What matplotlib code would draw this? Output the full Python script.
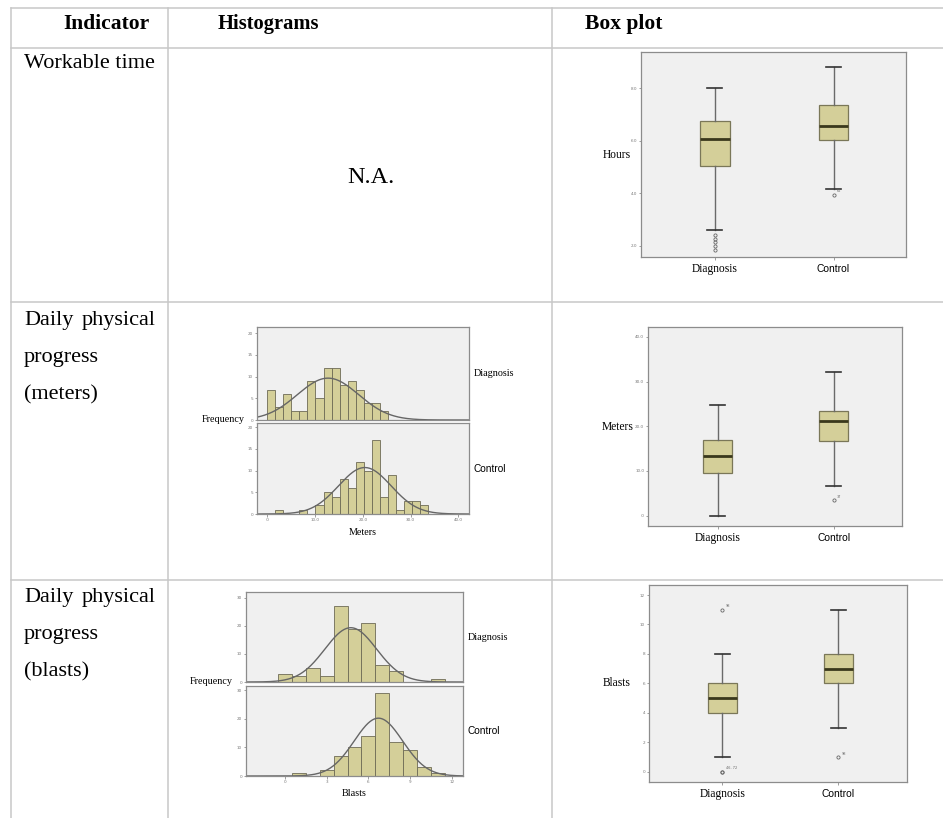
import numpy as np
import matplotlib
matplotlib.use("Agg")
import matplotlib.pyplot as plt
from matplotlib.transforms import blended_transform_factory

W, H = 943, 818
SERIF = ['Liberation Serif', 'DejaVu Serif']
SANS = ['Liberation Sans', 'DejaVu Sans']

# ---------------- data ----------------
groups = ['Diagnosis', 'Control']

# box plot: workable time (hours)
hours_lo = [2.6, 4.17]
hours_q1 = [5.04, 6.05]
hours_med = [6.07, 6.58]
hours_q3 = [6.77, 7.38]
hours_hi = [8.0, 8.82]
hours_out = [[2.41, 2.28, 2.15, 2.0, 1.85], [3.95]]
hours_out_lbl = [['', '', '', '', ''], ['62']]

# box plot: daily progress (meters)
meters_lo = [0.0, 6.7]
meters_q1 = [9.5, 16.7]
meters_med = [13.4, 21.1]
meters_q3 = [16.9, 23.4]
meters_hi = [24.7, 32.1]
meters_out = [[], [3.5]]
meters_out_lbl = [[], ['37']]

# box plot: daily progress (blasts)
blasts_lo = [1, 3]
blasts_q1 = [4, 6]
blasts_med = [5, 7]
blasts_q3 = [6, 8]
blasts_hi = [8, 11]
blasts_out = [[11, 0, 0], [1]]
blasts_out_lbl = [['98', '46, 72', ''], ['98']]

# histograms: meters (bins start at 0, width 1.68)
meters_bin_w = 1.68
meters_diag_counts = [7, 3, 6, 2, 2, 9, 5, 12, 12, 8, 9, 7, 4, 4, 2]
meters_ctrl_counts = [0, 1, 0, 0, 1, 0, 2, 5, 4, 8, 6, 12, 10, 17, 4, 9, 1, 3, 3, 2]
meters_fit_mean = [12.7, 20.4]
meters_fit_sd = [6.4, 5.5]

# histograms: blasts (bins centred on integers, width 1)
blasts_centres = list(range(0, 12))
blasts_diag_counts = [3, 2, 5, 2, 27, 19, 21, 6, 4, 0, 0, 1]
blasts_ctrl_counts = [0, 1, 0, 2, 7, 10, 14, 29, 12, 9, 3, 1]
blasts_fit_mean = [4.73, 6.72]
blasts_fit_sd = [1.86, 1.74]

# ---------------- style ----------------
FACE = '#F0F0F0'
FRAME = '#8C8C8C'
FILL = '#D4CF99'
BAR_EDGE = '#6E6B55'
GRID = '#C8C8C8'

fig = plt.figure(figsize=(W / 100, H / 100), dpi=100)

# table overlay in pixel coordinates
tab = fig.add_axes([0, 0, 1, 1])
tab.set_xlim(0, W)
tab.set_ylim(H, 0)
tab.axis('off')
for y in [8, 48, 302, 580]:
    tab.plot([11, W], [y, y], color=GRID, lw=1.1)
for x in [11, 168, 552]:
    tab.plot([x, x], [8, H], color=GRID, lw=1.1)

tab.text(106, 29, 'Indicator', family=SERIF, weight='bold', fontsize=15.5, ha='center', va='baseline')
tab.text(218, 29, 'Histograms', family=SERIF, weight='bold', fontsize=14.8, ha='left', va='baseline')
tab.text(585, 29, 'Box plot', family=SERIF, weight='bold', fontsize=15.5, ha='left', va='baseline')

tab.text(24, 68, 'Workable time', family=SERIF, fontsize=16, va='baseline')
for base, last in [(325, '(meters)'), (602, '(blasts)')]:
    tab.text(24, base, 'Daily', family=SERIF, fontsize=16, va='baseline')
    tab.text(156, base, 'physical', family=SERIF, fontsize=16, va='baseline', ha='right')
    tab.text(24, base + 37, 'progress', family=SERIF, fontsize=16, va='baseline')
    tab.text(24, base + 74, last, family=SERIF, fontsize=16, va='baseline')
tab.text(371, 183, 'N.A.', family=SERIF, fontsize=17.5, ha='center', va='baseline')


def px_axes(x0, y0, x1, y1):
    return fig.add_axes([x0 / W, 1 - y1 / H, (x1 - x0) / W, (y1 - y0) / H])


def frame(ax):
    ax.set_facecolor(FACE)
    for s in ax.spines.values():
        s.set_color(FRAME)
        s.set_linewidth(0.9)
    ax.tick_params(length=1.8, width=0.5, colors='#777777', labelsize=3, pad=1)


def boxplot(rect, xlim, ylim, yticks, ytlbl, lo, q1, med, q3, hi, out, out_lbl, ylabel, ylab_x):
    ax = px_axes(*rect)
    frame(ax)
    stats = []
    for i in range(2):
        stats.append(dict(whislo=lo[i], q1=q1[i], med=med[i], q3=q3[i], whishi=hi[i], fliers=out[i]))
    ax.bxp(stats, positions=[1, 2], widths=0.25, patch_artist=True,
           boxprops=dict(facecolor=FILL, edgecolor='#7A7758', lw=0.9),
           medianprops=dict(color='#3A381C', lw=2.0),
           whiskerprops=dict(color='#6A6A6A', lw=1.0),
           capprops=dict(color='#333333', lw=1.2),
           capwidths=0.13,
           flierprops=dict(marker='o', ms=2.3, mfc='none', mec='#666666', mew=0.6))
    for i in range(2):
        for v, t in zip(out[i], out_lbl[i]):
            if t:
                ax.text(i + 1.03, v + (ylim[1] - ylim[0]) * 0.012, t, fontsize=2.5, color='#666666')
    ax.set_xlim(*xlim)
    ax.set_ylim(*ylim)
    ax.set_yticks(yticks)
    ax.set_yticklabels(ytlbl)
    ax.set_xticks([1, 2])
    ax.set_xticklabels(['', ''])
    tr = blended_transform_factory(ax.transData, ax.transAxes)
    ax.text(1, -0.06, groups[0], family=SERIF, fontsize=8.3, ha='center', va='center', transform=tr)
    ax.text(2, -0.06, groups[1], family=SANS, fontsize=7.4, ha='center', va='center', transform=tr)
    ax.text(ylab_x, 0.5, ylabel, family=SERIF, fontsize=8.3, ha='right', va='center', transform=ax.transAxes)
    return ax


boxplot((641, 52, 906, 257), (0.38, 2.61), (1.58, 9.38), [2, 4, 6, 8], ['2.0', '4.0', '6.0', '8.0'],
        hours_lo, hours_q1, hours_med, hours_q3, hours_hi, hours_out, hours_out_lbl, 'Hours', -0.04)
boxplot((648, 327, 902, 526), (0.40, 2.59), (-2.3, 42.2), [0, 10, 20, 30, 40],
        ['.0', '10.0', '20.0', '30.0', '40.0'],
        meters_lo, meters_q1, meters_med, meters_q3, meters_hi, meters_out, meters_out_lbl, 'Meters', -0.055)
boxplot((649, 585, 907, 782), (0.37, 2.59), (-0.7, 12.68), [0, 2, 4, 6, 8, 10, 12],
        ['0', '2', '4', '6', '8', '10', '12'],
        blasts_lo, blasts_q1, blasts_med, blasts_q3, blasts_hi, blasts_out, blasts_out_lbl, 'Blasts', -0.07)


def normal_curve(ax, xlim, mean, sd, n, bw):
    xs = np.linspace(xlim[0], xlim[1], 300)
    ys = n * bw / (sd * np.sqrt(2 * np.pi)) * np.exp(-0.5 * ((xs - mean) / sd) ** 2)
    ax.plot(xs, ys, color='#666666', lw=1.0)


def hist_pair(top_rect, bot_rect, xlim, ylims, yticks, xticks, xtlbl, lefts, bw, counts, means, sds,
              xlabel, lbl_x, freq_x):
    axes = [px_axes(*top_rect), px_axes(*bot_rect)]
    for k, ax in enumerate(axes):
        frame(ax)
        ax.bar(lefts[:len(counts[k])], counts[k], width=bw, align='edge', color=FILL,
               edgecolor=BAR_EDGE, lw=0.6)
        normal_curve(ax, xlim, means[k], sds[k], sum(counts[k]), bw)
        ax.set_xlim(*xlim)
        ax.set_ylim(0, ylims[k])
        ax.set_yticks(yticks)
        ax.set_yticklabels([str(t) for t in yticks])
        fam = SERIF if k == 0 else SANS
        ax.text(lbl_x, 0.5, groups[k], family=fam, fontsize=7.3, ha='left', va='center',
                transform=ax.transAxes)
    axes[0].set_xticks([])
    axes[1].set_xticks(xticks)
    axes[1].set_xticklabels(xtlbl)
    axes[1].text(0.5, -0.2, xlabel, family=SERIF, fontsize=7.3, ha='center', va='center',
                 transform=axes[1].transAxes)
    axes[0].text(freq_x, 0.0, 'Frequency', family=SERIF, fontsize=7.3, ha='right', va='center',
                 transform=axes[0].transAxes)


n_m = len(meters_ctrl_counts)
meters_lefts = [i * meters_bin_w for i in range(n_m)]
hist_pair((257, 327, 469, 420), (257, 423, 469, 514), (-2.16, 42.2), (21.4, 21.0), [0, 5, 10, 15, 20],
          [0, 10, 20, 30, 40], ['.0', '10.0', '20.0', '30.0', '40.0'], meters_lefts, meters_bin_w,
          [meters_diag_counts, meters_ctrl_counts], meters_fit_mean, meters_fit_sd, 'Meters', 1.02, -0.06)

blasts_lefts = [c - 0.5 for c in blasts_centres]
hist_pair((246, 592, 463, 682), (246, 686, 463, 776), (-2.8, 12.8), (32, 31.4), [0, 10, 20, 30],
          [0, 3, 6, 9, 12], ['0', '3', '6', '9', '12'], blasts_lefts, 1.0,
          [blasts_diag_counts, blasts_ctrl_counts], blasts_fit_mean, blasts_fit_sd, 'Blasts', 1.02, -0.06)

fig.savefig('out.png', dpi=100)
